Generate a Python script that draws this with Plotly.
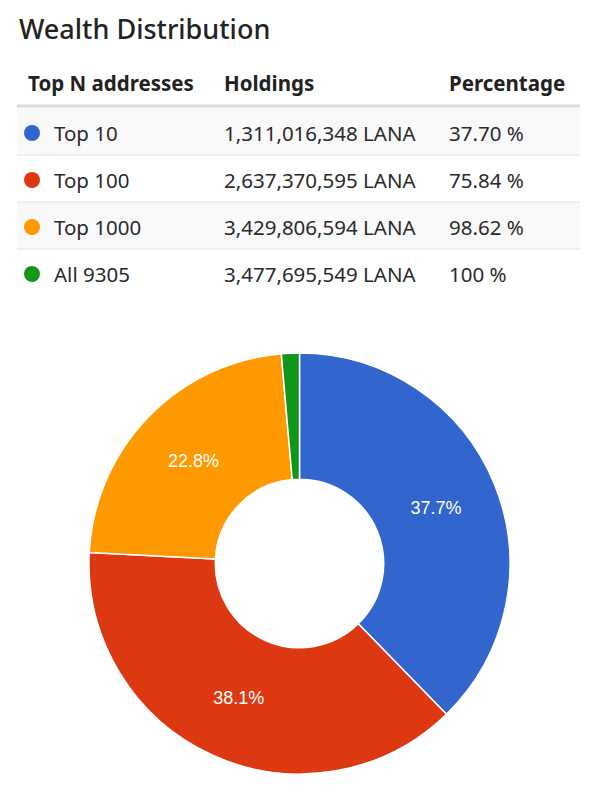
import plotly.graph_objects as go

title = "Wealth Distribution"
headers = ["Top N addresses", "Holdings", "Percentage"]
groups = ["Top 10", "Top 100", "Top 1000", "All 9305"]
holdings = [1311016348, 2637370595, 3429806594, 3477695549]
percentages = ["37.70 %", "75.84 %", "98.62 %", "100 %"]
colors = ["#3366CC", "#DC3912", "#FF9900", "#109618"]

# slices are the increments between the cumulative holdings
slices = [holdings[0]] + [b - a for a, b in zip(holdings, holdings[1:])]
slice_names = ["Top 10", "Top 11-100", "Top 101-1000", "Rest"]

W, H = 601, 791
OFF = 8  # page body margin
FONT = "Noto Sans, Open Sans, sans-serif"
TEXT = "#2a2a2a"

fig = go.Figure()

fig.add_trace(
    go.Pie(
        labels=slice_names,
        values=slices,
        hole=0.4,
        sort=False,
        direction="clockwise",
        rotation=0,
        marker=dict(colors=colors, line=dict(color="white", width=1.5)),
        texttemplate="%{percent:.1%}",
        textposition=["inside", "inside", "inside", "none"],
        insidetextorientation="horizontal",
        textfont=dict(family="Arial, Liberation Sans, sans-serif", size=18, color="white"),
        domain=dict(
            x=[(89 - OFF) / W, (510 - OFF) / W],
            y=[(H - (774 - OFF)) / H, (H - (353 - OFF)) / H],
        ),
        showlegend=False,
        hoverinfo="label+value+percent",
    )
)

# table drawn on hidden pixel-like axes
fig.add_trace(
    go.Scatter(
        x=[32] * len(groups),
        y=[133 + 47 * i for i in range(len(groups))],
        mode="markers",
        marker=dict(size=16, color=colors),
        showlegend=False,
        hoverinfo="skip",
    )
)

shapes = []
for i in range(len(groups)):
    top = 108 + 47 * i
    if i % 2 == 0:
        shapes.append(dict(type="rect", x0=17, x1=580, y0=top, y1=top + 47,
                           fillcolor="#f9f9f9", line=dict(width=0), layer="below"))
    if i < len(groups) - 1:
        shapes.append(dict(type="line", x0=17, x1=580, y0=top + 47, y1=top + 47,
                           line=dict(color="#e3e3e3", width=1)))
shapes.append(dict(type="line", x0=17, x1=580, y0=106, y1=106, line=dict(color="#dcdcdc", width=3)))

annotations = [
    dict(x=17, y=28, text=title, font=dict(size=27, color="#222222", family=FONT, weight=500))
]
col_x = [26, 222, 447]
for x, h in zip(col_x, headers):
    annotations.append(dict(x=x, y=83, text=h, font=dict(size=20.5, color="#222222", family=FONT, weight=700)))
for i, (g, v, p) in enumerate(zip(groups, holdings, percentages)):
    y = 133 + 47 * i
    annotations.append(dict(x=52, y=y, text=g, font=dict(size=20.5, color=TEXT, family=FONT)))
    annotations.append(dict(x=222, y=y, text=f"{v:,} LANA", font=dict(size=20.5, color=TEXT, family=FONT)))
    annotations.append(dict(x=447, y=y, text=p, font=dict(size=20.5, color=TEXT, family=FONT)))
for a in annotations:
    a.update(xref="x", yref="y", xanchor="left", yanchor="middle", showarrow=False)

fig.update_layout(
    width=W,
    height=H,
    margin=dict(l=0, r=0, t=0, b=0),
    paper_bgcolor="white",
    plot_bgcolor="rgba(0,0,0,0)",
    xaxis=dict(range=[OFF, W + OFF], visible=False, fixedrange=True),
    yaxis=dict(range=[H + OFF, OFF], visible=False, fixedrange=True),
    shapes=shapes,
    annotations=annotations,
)

fig.write_html("out.html")
